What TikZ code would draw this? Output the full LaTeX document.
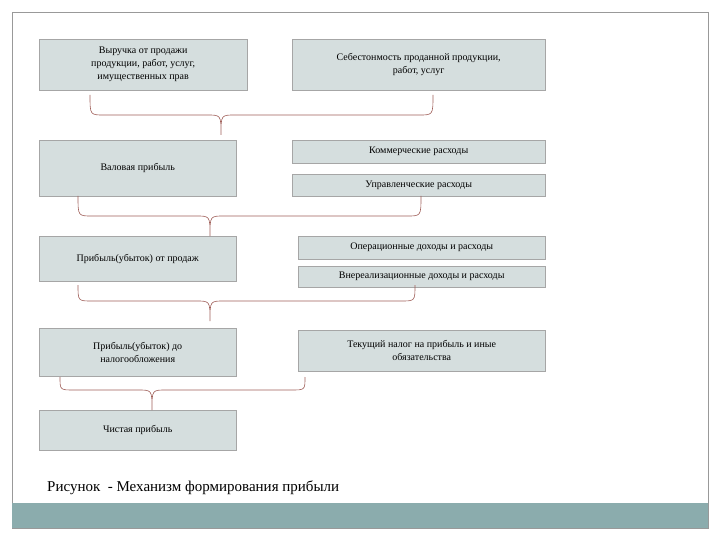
\documentclass[tikz,border=0pt]{standalone}
\usepackage{fontspec}
\setmainfont{Liberation Serif}
\begin{document}
\begin{tikzpicture}[x=1pt,y=-1pt,
  bx/.style={draw=gray!70,fill=boxc,inner sep=1pt,align=center,font=\fontsize{10}{13}\selectfont,anchor=north west},
  br/.style={draw=bracec,line width=0.6pt}]
\definecolor{boxc}{HTML}{D5DEDE}
\definecolor{barc}{HTML}{8BACAD}
\definecolor{bracec}{HTML}{A0605A}
\useasboundingbox (0,0) rectangle (720,540);
\fill[white] (0,0) rectangle (720,540);
\draw[gray!80] (12,12) rectangle (708,528);
\fill[barc] (12,503) rectangle (708,528);
\node[bx,minimum width=208,minimum height=51] (a) at (39,39) {Выручка от продажи\\продукции, работ, услуг,\\имущественных прав};
\node[bx,minimum width=253,minimum height=51] (b) at (292,39) {Себестонмость проданной продукции,\\работ, услуг};
\node[bx,minimum width=197,minimum height=56] (c) at (39,140) {Валовая прибыль};
\node[bx,minimum width=253,minimum height=23] (d) at (292,140) {Коммерческие расходы};
\node[bx,minimum width=253,minimum height=22] (e) at (292,174) {Управленческие расходы};
\node[bx,minimum width=197,minimum height=45] (f) at (39,236) {Прибыль(убыток) от продаж};
\node[bx,minimum width=247,minimum height=23] (g) at (298,236) {Операционные доходы и расходы};
\node[bx,minimum width=247,minimum height=21] (h) at (298,266) {Внереализационные доходы и расходы};
\node[bx,minimum width=197,minimum height=48] (i) at (39,328) {Прибыль(убыток) до\\налогообложения};
\node[bx,minimum width=247,minimum height=41] (j) at (298,330) {Текущий налог на прибыль и иные\\обязательства};
\node[bx,minimum width=197,minimum height=40] (k) at (39,410) {Чистая прибыль};
\node[anchor=west,inner sep=0,font=\fontsize{15}{18}\selectfont] (cap) at (47,488) {Рисунок \ - Механизм формирования прибыли};
\newcommand{\mybrace}[6]{%
  \draw[br] (#1,#4) .. controls (#1,#5) and (#1,#5) .. (#1+14,#5) -- (#3-14,#5) .. controls (#3,#5) and (#3,#5) .. (#3,#6)
   .. controls (#3,#5) and (#3,#5) .. (#3+14,#5) -- (#2-14,#5) .. controls (#2,#5) and (#2,#5) .. (#2,#4);}
\coordinate (b1) at (221,135); \coordinate (b2) at (210,236);
\coordinate (b3) at (210,321); \coordinate (b4) at (152,410);
\mybrace{90}{433}{221}{95}{115}{135}
\mybrace{78}{421}{210}{196}{216}{236}
\mybrace{78}{415}{210}{285}{301}{321}
\mybrace{60}{305}{152}{377}{390}{410}
\end{tikzpicture}
\end{document}
